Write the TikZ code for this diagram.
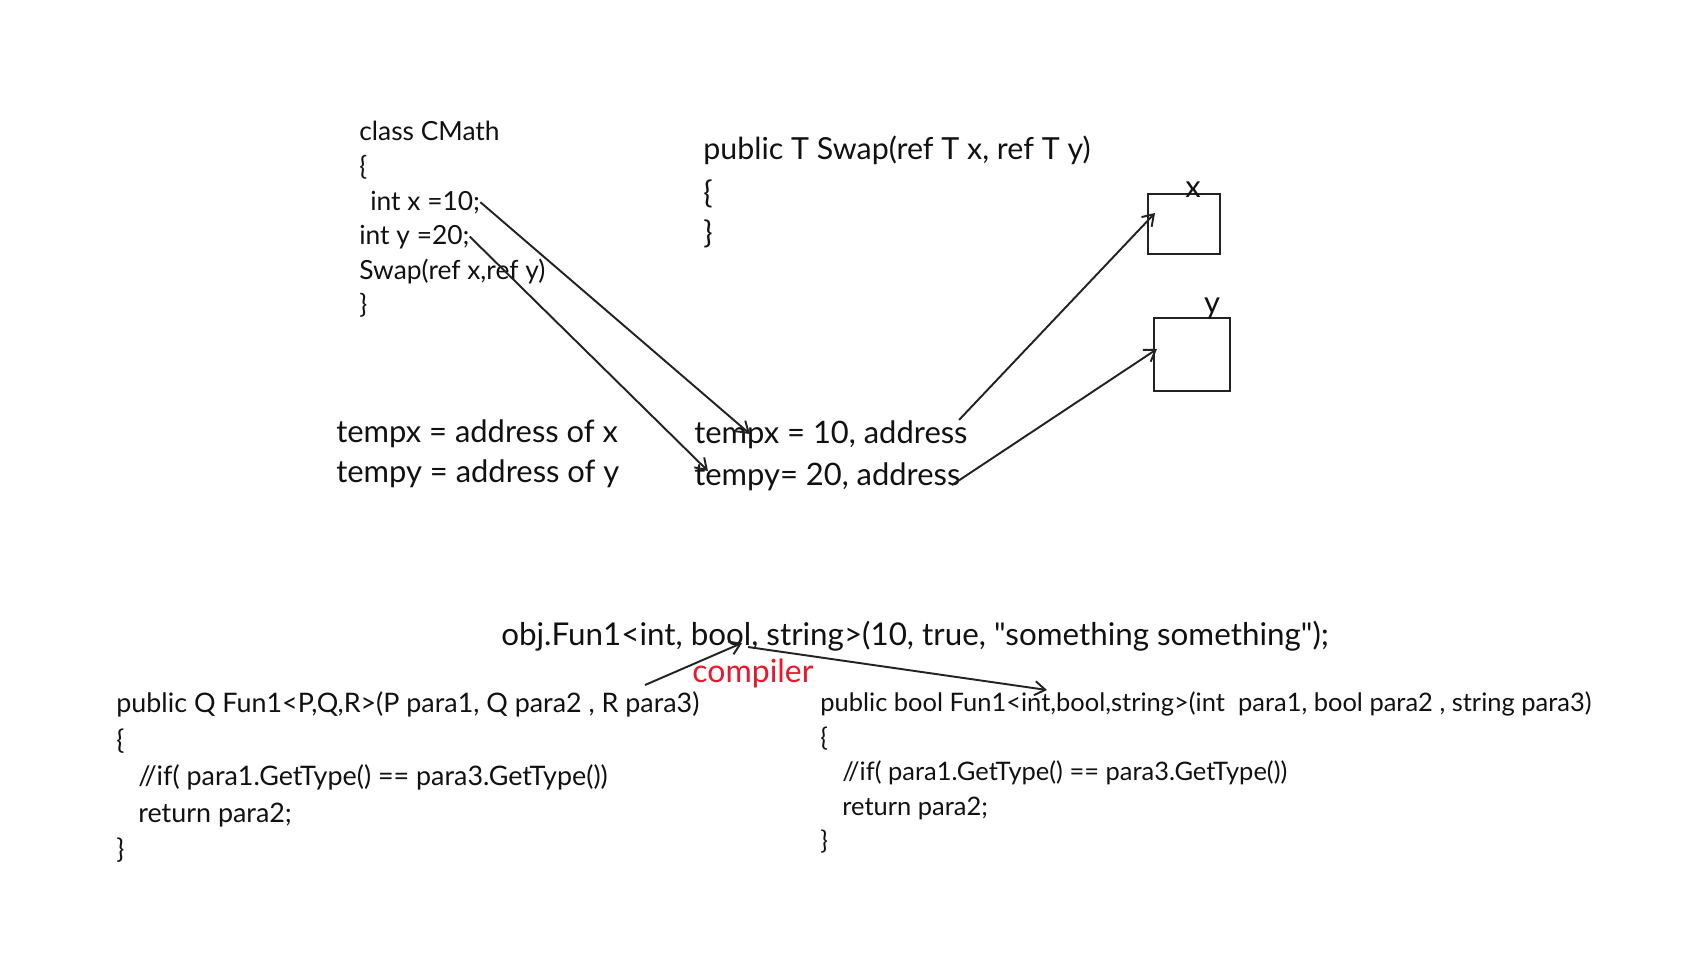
\documentclass[tikz,border=0pt]{standalone}
\usepackage{fontspec}
\newfontfamily\codefont{Lato}
\usepackage{xcolor}
\usetikzlibrary{arrows.meta}
\definecolor{ink}{HTML}{111111}
\definecolor{wire}{HTML}{222222}
\definecolor{compred}{HTML}{E8192C}

\begin{document}
\begin{tikzpicture}[x=0.02cm, y=-0.02cm, >={Straight Barb[length=6pt,width=8pt]}]
        \tikzstyle{every node}=[text=ink, inner sep=0pt, anchor=base west]
        \tikzstyle{cmath}=[font=\codefont\fontsize{15}{18}\selectfont]
        \tikzstyle{big}=[font=\codefont\fontsize{17.6}{20}\selectfont]
        \tikzstyle{gencode}=[font=\codefont\fontsize{15.3}{18}\selectfont]
        \tikzstyle{speccode}=[font=\codefont\fontsize{14.5}{17}\selectfont]
        \tikzstyle{memcell}=[rectangle, draw=wire, line width=1.1pt, anchor=center]
        \tikzstyle{arr}=[->, draw=wire, line width=1.1pt]

        \useasboundingbox (0,0) rectangle (1703,977);

        % class CMath
        \node (cls) [cmath] at (359,140) {class CMath};
        \node (cob) [cmath] at (359,175) {\{};
        \node (cx)  [cmath] at (370,210) {int x =10;};
        \node (cy)  [cmath] at (359,244) {int y =20;};
        \node (csw) [cmath] at (359,279) {Swap(ref x,ref y)};
        \node (ccb) [cmath] at (359,313) {\}};

        % Swap
        \node (swp) [big, font=\codefont\fontsize{17.3}{20}\selectfont] at (703,159) {public T Swap(ref T x, ref T y)};
        \node (sob) [big] at (703,203) {\{};
        \node (scb) [big] at (703,243) {\}};

        % temps
        \node (tax) [big] at (336,442) {tempx = address of x};
        \node (tay) [big] at (336,482) {tempy = address of y};
        \node (tvx) [big] at (694,443) {tempx = 10, address};
        \node (tvy) [big] at (694,485) {tempy= 20, address};

        % memory
        \node (memx) [memcell, minimum width=1.44cm, minimum height=1.2cm] at (1184,224) {};
        \node (memy) [memcell, minimum width=1.52cm, minimum height=1.46cm] at (1192,354.5) {};
        \node (labx) [big, anchor=base] at (1193,197) {x};
        \node (laby) [big, anchor=base] at (1212,313) {y};

        % generic call
        \node (call) [big, font=\codefont\fontsize{17.85}{20}\selectfont] at (501,645) {obj.Fun1<int, bool, string>(10, true, "something something");};
        \node (comp) [big, text=compred, font=\codefont\fontsize{18.2}{20}\selectfont] at (692,682) {compiler};

        \node (gen1) [gencode] at (116,712) {public Q Fun1<P,Q,R>(P para1, Q para2 , R para3)};
        \node (gen2) [gencode] at (116,749) {\{};
        \node (gen3) [gencode] at (138,785) {//if( para1.GetType() == para3.GetType())};
        \node (gen4) [gencode] at (138,822) {return para2;};
        \node (gen5) [gencode] at (116,858) {\}};

        \node (spec1) [speccode] at (820,711) {public bool Fun1<int,bool,string>(int\ \ para1, bool para2 , string para3)};
        \node (spec2) [speccode] at (820,746) {\{};
        \node (spec3) [speccode] at (842,780) {//if( para1.GetType() == para3.GetType())};
        \node (spec4) [speccode] at (842,815) {return para2;};
        \node (spec5) [speccode] at (820,849) {\}};

        % arrow ends
        \coordinate (ex10) at (750,434);
        \coordinate (ey20) at (708,471);
        \coordinate (inx) at (1155,213);
        \coordinate (iny) at (1157,349);
        \coordinate (cfrom) at (645,685);
        \coordinate (cbool) at (742,643);
        \coordinate (cout) at (748,647);
        \coordinate (cint) at (1047,690);

        % Edges
        \draw[arr] (cx.east) -- (ex10);
        \draw[arr] (cy.east) -- (ey20);
        \draw[arr] ([xshift=-5]tvx.north east) -- (inx);
        \draw[arr] ([xshift=-5]tvy.base east) -- (iny);
        \draw[arr] (cfrom) -- (cbool);
        \draw[arr] (cout) -- (cint);

    \end{tikzpicture}
\end{document}
